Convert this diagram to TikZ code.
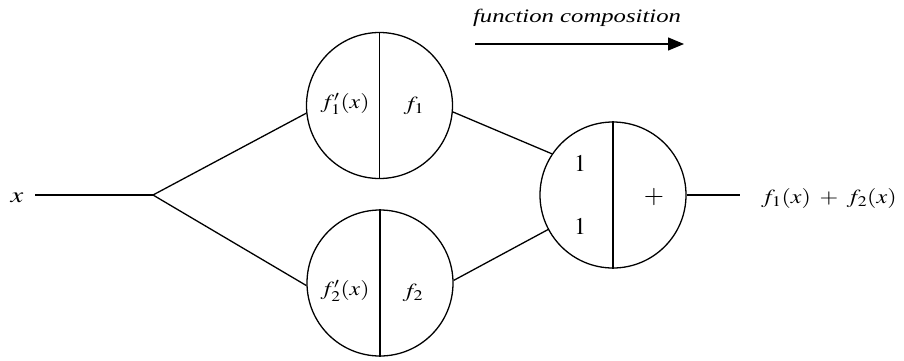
\documentclass[tikz,border=0pt]{standalone}
\usepackage{graphicx}
\usepackage{mathptmx}
\usepackage{fontspec}
\setmainfont{Liberation Serif}
\usetikzlibrary{arrows.meta}
\newcommand{\wide}[2][1.22]{\scalebox{#1}[1]{#2}}
\begin{document}
\begin{tikzpicture}[x=1pt,y=-1pt,
  unit/.style={circle,draw,line width=1.3pt,minimum size=146pt,inner sep=0pt},
  wire/.style={line width=1.3pt},
  lbl/.style={inner sep=0pt,font=\fontsize{20}{24}\selectfont}]
\useasboundingbox (0,0) rectangle (904,360);
\node[unit] (t) at (379.5,105.5) {};
\node[unit] (b) at (380,283) {};
\node[unit] (s) at (613,195) {};
\draw[wire] (t.north) -- (t.south);
\draw[wire] (b.north) -- (b.south);
\draw[wire] (s.north) -- (s.south);
\node[lbl,font=\fontsize{22}{26}\selectfont] (xin) at (17,198) {\wide[1.3]{$x$}};
\coordinate (xs) at (35,195);
\coordinate (br) at (153,195);
\coordinate (oe) at (740,195);
\draw[wire] (xs) -- (br);
\draw[wire] (br) -- (t.186);
\draw[wire] (br) -- (b.182);
\draw[wire] (t.355) -- (s.146);
\draw[wire] (b.2) -- (s.208);
\draw[wire] (s.east) -- (oe);
\node[lbl] (t1) at (345,104) {\wide[1.18]{$f_1'(x)$}};
\node[lbl] (t2) at (414,106) {\wide{$f_1$}};
\node[lbl] (b1) at (345,291) {\wide[1.18]{$f_2'(x)$}};
\node[lbl] (b2) at (413,293) {\wide{$f_2$}};
\node[lbl,font=\fontsize{24}{28}\selectfont] (s1) at (580,163) {$1$};
\node[lbl,font=\fontsize{24}{28}\selectfont] (s2) at (580,226) {$1$};
\node[lbl,font=\fontsize{26}{30}\selectfont] (s3) at (654,197) {$+$};
\node[lbl,anchor=west] (out) at (761,198) {\wide[1.2]{$f_1(x)\;+\;f_2(x)$}};
\node[lbl,font=\fontsize{19}{22}\selectfont\itshape] (fc) at (577,18) {\wide[1.3]{function composition}};
\coordinate (a1) at (475,44);
\coordinate (a2) at (684,44);
\draw[wire,-{Triangle[length=16pt,width=13pt]}] (a1) -- (a2);
\end{tikzpicture}
\end{document}
